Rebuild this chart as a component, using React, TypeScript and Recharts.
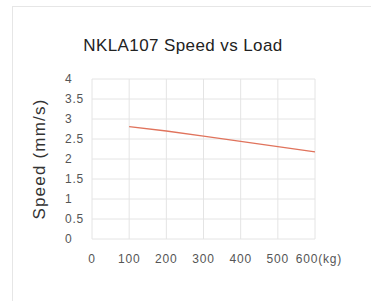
import { LineChart, Line, XAxis, YAxis, CartesianGrid } from "recharts";

const loads = [100, 200, 300, 400, 500, 600];
const speeds = [2.81, 2.7, 2.57, 2.44, 2.31, 2.18];
const xTicks = [0, 100, 200, 300, 400, 500, 600];
const yTicks = [0, 0.5, 1, 1.5, 2, 2.5, 3, 3.5, 4];

const data = loads.map((load, i) => ({ load, speed: speeds[i] }));

const FONT = "'Liberation Sans', Arial, sans-serif";

function YTick(props: any) {
  const { x, y, payload } = props;
  return (
    <text x={x - 19} y={y} dy="0.35em" textAnchor="start" fontSize={12} letterSpacing={0.8} fill="#555" fontFamily={FONT}>
      {payload.value}
    </text>
  );
}

function XTick(props: any) {
  const { x, y, payload } = props;
  const last = payload.value === 600;
  return (
    <text x={last ? x + 4 : x} y={y + 7} dy="0.71em" textAnchor="middle" fontSize={12} letterSpacing={0.8} fill="#555" fontFamily={FONT}>
      {last ? "600(kg)" : payload.value}
    </text>
  );
}

export default function App() {
  return (
    <div style={{ position: "absolute", left: 0, top: 0, width: 371, height: 301, overflow: "hidden", background: "#fff" }}>
      <div style={{ position: "absolute", left: 12, top: 6, width: 400, height: 340, border: "1px solid #e6e6e6" }} />
      <div
        style={{
          position: "absolute",
          left: 0,
          width: 366,
          top: 36,
          textAlign: "center",
          fontFamily: FONT,
          fontSize: 17,
          letterSpacing: 0.4,
          color: "#222",
        }}
      >
        NKLA107 Speed vs Load
      </div>
      <div style={{ position: "absolute", left: 0, top: 0 }}>
        <LineChart width={371} height={301} data={data} margin={{ top: 79, right: 56, bottom: 32, left: 0 }}>
          <CartesianGrid stroke="#e4e4e4" vertical horizontal />
          <XAxis
            dataKey="load"
            type="number"
            domain={[0, 600]}
            ticks={xTicks}
            interval={0}
            tick={<XTick />}
            axisLine={false}
            tickLine={false}
            height={30}
          />
          <YAxis
            type="number"
            domain={[0, 4]}
            ticks={yTicks}
            interval={0}
            tick={<YTick />}
            axisLine={false}
            tickLine={false}
            width={92}
            label={{
              value: "Speed (mm/s)",
              angle: -90,
              position: "insideLeft",
              offset: 39,
              style: { textAnchor: "middle", fontSize: 17, letterSpacing: 1.2, fill: "#333", fontFamily: FONT },
            }}
          />
          <Line
            dataKey="speed"
            stroke="#e0735c"
            strokeWidth={1.3}
            dot={false}
            isAnimationActive={false}
          />
        </LineChart>
      </div>
    </div>
  );
}
